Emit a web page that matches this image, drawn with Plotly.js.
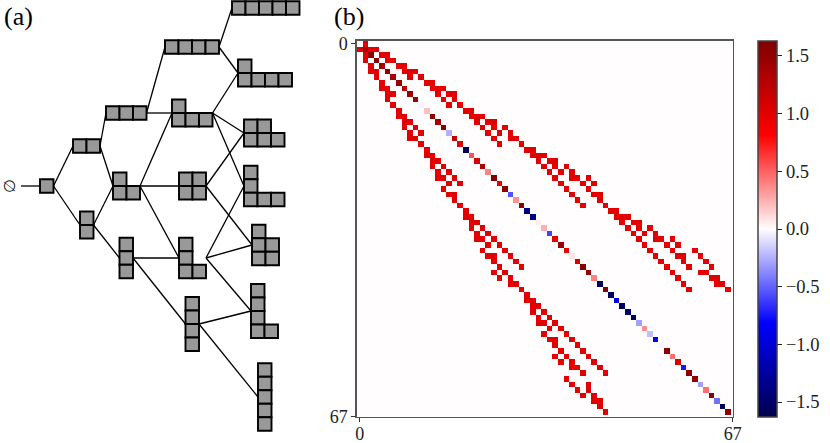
<!DOCTYPE html>
<html>
<head>
<meta charset="utf-8">
<script src="https://cdn.plot.ly/plotly-3.0.1.min.js"></script>
<style>
  html, body { margin: 0; padding: 0; background: white; }
</style>
</head>
<body>
<div id="chart" style="width:830px;height:443px"></div>
<script>
// panel (b): values on the diagonal, one per state
var diagonalValues = [
    0, 1.4, 1.5, 1.55, 1.4, 1.5, 1.35, 1.45, 1.3, 1.45, 1.45,
    -0.03, 0.2, 1.55, 1.4, 1.55, -0.25, 1.2, 1.0, -1.6, 0.55,
    1.05, 1.3, 0.4, 1.6, 0.95, 1.55, -0.55, 0.35, 1.55, -1.35,
    -1.35, 0.05, 0.25, -0.6, 1.0, 1.45, 1.0, 0.08, 1.05, 1.55,
    1.45, 0.4, -1.55, 1.55, -1.55, -0.85, -1.55, -1.5, -1.55, -0.3,
    0.35, -0.2, -0.9, -0.03, 1.55, 0.45, 1.05, -0.75, 1.55, 1.5,
    -0.3, 0.45, 1.55, -0.45, -1.55, 1.55
]

// columns right of the diagonal that are nonzero, row by row (matrix is symmetric)
var upperCols = [
    [1], [2, 3], [4, 5], [5, 6], [7, 8], [8, 9, 10], [9, 11], [12, 13],
    [13, 14, 15], [14, 16, 17], [15, 17], [16, 18], [19, 20], [20, 21, 22],
    [21, 23, 24], [22, 24, 26], [23, 25, 27], [24, 27, 28], [25, 29], [30, 31],
    [31, 32, 33], [32, 34, 35], [33, 35, 37], [34, 36, 38], [35, 38, 39, 41],
    [36, 40, 42], [37, 41], [38, 42, 43], [39, 43], [40, 44], [45, 46],
    [46, 47, 48], [47, 49, 50], [48, 50, 52], [49, 51, 53], [50, 53, 54, 56],
    [51, 55, 57], [52, 56, 60], [53, 57, 58, 61], [54, 58, 62], [55, 59, 63],
    [56, 61, 62], [57, 63, 64], [58, 64, 65], [59, 66]
]
var offDiagonal = 1.0

var colorTicks = [-1.5, -1, -0.5, 0, 0.5, 1, 1.5]
var seismic = [
    [0, 'rgb(0,0,76)'],
    [0.25, 'rgb(0,0,255)'],
    [0.5, 'rgb(255,253,253)'],
    [0.75, 'rgb(255,0,0)'],
    [1, 'rgb(127,0,0)']
]

// panel (a): diagrams, rows listed top to bottom, placed in page pixels
var nodeRows = [
    [], [1], [2], [1, 1], [3], [1, 2], [1, 1, 1], [4], [1, 3], [2, 2],
    [1, 1, 2], [1, 1, 1, 1], [5], [1, 4], [2, 3], [1, 1, 3], [1, 2, 2],
    [1, 1, 1, 2], [1, 1, 1, 1, 1]
]
var nodeLeft = [21, 40, 73, 80, 106, 113, 119.5, 165, 172, 179, 179, 185.5, 232, 238, 244, 244, 252, 251, 258]
var nodeMid = [186, 186, 146, 225, 113, 186, 258, 47, 113, 186, 258, 324, 8, 73, 133, 186, 245, 311, 397]
var edgeFrom = [0, 1, 1, 2, 2, 3, 3, 4, 4, 5, 5, 5, 6, 6, 7, 7, 8, 8, 8, 9, 9, 10, 10, 10, 11, 11]
var edgeTo = [1, 2, 3, 4, 5, 5, 6, 7, 8, 8, 9, 10, 10, 11, 12, 13, 13, 14, 15, 14, 16, 15, 16, 17, 17, 18]
var cell = 13.5

var serif = 'Liberation Serif, serif'

function make_matrix() {
    var n = diagonalValues.length
    var z = []
    for (let i = 0; i < n; i++) {
        z.push(new Array(n).fill(0))
        z[i][i] = diagonalValues[i]
    }
    upperCols.forEach(function (cols, i) {
        cols.forEach(function (j) {
            z[i][j] = offDiagonal
            z[j][i] = offDiagonal
        })
    })
    return z
}

function make_diagram_traces() {
    var edgeX = []
    var edgeY = []
    for (let k = 0; k < edgeFrom.length; k++) {
        var a = edgeFrom[k]
        var b = edgeTo[k]
        var wide = Math.max(0, ...nodeRows[a])
        edgeX.push(nodeLeft[a] + wide * cell, nodeLeft[b], null)
        edgeY.push(nodeMid[a], nodeMid[b], null)
    }

    var cellX = []
    var cellY = []
    nodeRows.forEach(function (rows, i) {
        var top = nodeMid[i] - rows.length * cell / 2
        rows.forEach(function (len, r) {
            for (let c = 0; c < len; c++) {
                cellX.push(nodeLeft[i] + (c + 0.5) * cell)
                cellY.push(top + (r + 0.5) * cell)
            }
        })
    })

    var edges = {
        x: edgeX, y: edgeY, xaxis: 'x2', yaxis: 'y2',
        mode: 'lines',
        line: { color: 'black', width: 1.3 },
        hoverinfo: 'skip'
    }
    var cells = {
        x: cellX, y: cellY, xaxis: 'x2', yaxis: 'y2',
        mode: 'markers',
        cliponaxis: false,
        marker: { symbol: 'square', size: cell, color: '#999999', line: { color: 'black', width: 1.9 } },
        hoverinfo: 'skip'
    }
    return [edges, cells]
}

function make_figure() {
    var heat = {
        type: 'heatmap',
        z: make_matrix(),
        colorscale: seismic,
        zmin: -1.63,
        zmax: 1.63,
        hoverinfo: 'skip',
        colorbar: {
            x: 758 / 830, xanchor: 'left', xpad: 0,
            y: 1 - 41 / 443, yanchor: 'top', ypad: 0,
            len: 376, lenmode: 'pixels',
            thickness: 19, thicknessmode: 'pixels',
            outlinecolor: '#444', outlinewidth: 1.5,
            tickmode: 'array', tickvals: colorTicks, tickformat: '.1f',
            ticks: 'outside', ticklen: 5, tickcolor: '#222',
            tickfont: { family: serif, size: 18.5, color: '#222' }
        }
    }

    var frameAxis = {
        range: [-0.5, 66.84],
        showgrid: false, zeroline: false,
        showline: true, mirror: true, linecolor: '#555', linewidth: 1.7,
        ticks: 'outside', ticklen: 4, tickcolor: '#333',
        tickmode: 'array', tickvals: [0, 66.84], ticktext: ['0', '67'],
        tickfont: { family: serif, size: 18, color: '#222' }
    }

    var hiddenAxis = { visible: false, fixedrange: true }

    var layout = {
        width: 830,
        height: 443,
        margin: { l: 0, r: 0, t: 0, b: 0, autoexpand: false },
        paper_bgcolor: 'white',
        plot_bgcolor: 'white',
        showlegend: false,
        // labels pulled up a little so they stay inside the page
        xaxis: Object.assign({}, frameAxis, { domain: [357 / 830, 732.7 / 830], anchor: 'y', ticklabelstandoff: -4 }),
        yaxis: Object.assign({}, frameAxis, {
            domain: [1 - 416.7 / 443, 1 - 41 / 443], anchor: 'x',
            range: [66.84, -0.5]
        }),
        xaxis2: Object.assign({}, hiddenAxis, { domain: [0, 0.4], range: [0, 332], anchor: 'y2' }),
        yaxis2: Object.assign({}, hiddenAxis, { domain: [0, 1], range: [443, 0], anchor: 'x2' }),
        annotations: [
            { text: '(a)', xref: 'paper', yref: 'paper', x: 2 / 830, y: 1 - 17 / 443, xanchor: 'left', yanchor: 'middle', showarrow: false, font: { family: serif, size: 26, color: 'black' } },
            { text: '(b)', xref: 'paper', yref: 'paper', x: 332 / 830, y: 1 - 17 / 443, xanchor: 'left', yanchor: 'middle', showarrow: false, font: { family: serif, size: 26, color: 'black' } },
            { text: '∅', xref: 'x2', yref: 'y2', x: 9, y: 186, textangle: -90, showarrow: false, font: { family: 'DejaVu Sans', size: 16, color: '#222' } }
        ]
    }

    Plotly.newPlot('chart', [heat].concat(make_diagram_traces()), layout, { displayModeBar: false, staticPlot: true })
}

make_figure()
</script>
</body>
</html>
